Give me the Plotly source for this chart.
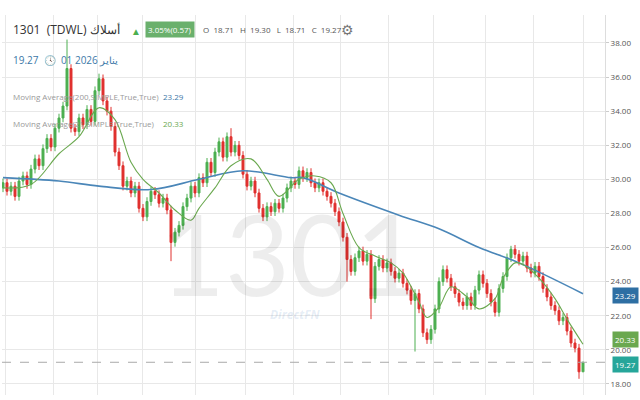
import plotly.graph_objects as go

# daily closes (one candle per session)
closes = [29.8, 29.3, 29.6, 29.0, 29.9, 30.2, 29.7, 30.6, 31.2, 30.8, 31.8, 32.4, 31.9, 33.0,
          33.6, 34.3, 36.5, 33.0, 32.8, 33.6, 33.2, 34.1, 33.4, 35.2, 35.9, 34.6, 34.0, 33.1,
          31.6, 30.8, 29.6, 29.9, 29.2, 29.6, 28.3, 27.8, 28.7, 29.3, 29.1, 28.6, 28.9, 28.2,
          26.3, 26.9, 27.3, 28.4, 28.9, 29.6, 29.2, 30.1, 29.8, 31.0, 30.4, 31.6, 32.2, 31.3,
          32.5, 31.6, 32.0, 31.4, 30.3, 29.6, 29.9, 29.2, 28.3, 27.8, 28.4, 28.1, 28.6, 28.3,
          28.9, 29.5, 29.9, 29.7, 30.5, 30.1, 30.4, 29.8, 29.5, 29.8, 29.3, 29.0, 28.6, 28.1,
          27.5, 26.6, 25.3, 24.6, 25.4, 25.8, 25.2, 25.6, 23.0, 24.9, 25.3, 24.8, 25.1, 24.6,
          24.2, 24.5, 23.9, 23.5, 22.9, 23.3, 22.4, 21.0, 20.6, 21.2, 22.4, 24.0, 24.7, 24.2,
          23.7, 23.3, 22.8, 22.6, 23.1, 22.6, 23.5, 24.4, 23.9, 23.3, 22.8, 22.2, 23.6, 24.3,
          25.4, 25.9, 25.6, 25.2, 25.5, 24.8, 24.5, 24.9, 24.3, 23.6, 23.1, 22.6, 22.3, 21.7,
          21.9, 21.1, 20.4, 20.1, 18.71, 19.27]
first_open = 29.5
wick = 0.25
# sessions with long shadows: index -> (high, low)
spikes = {16: (38.2, None), 24: (36.2, None), 42: (None, 25.2), 57: (33.0, None),
          86: (None, 24.0), 92: (None, 21.8), 103: (None, 19.9), 127: (26.1, None),
          144: (None, 18.3), 145: (19.30, 18.71)}

# moving averages (session index, value)
ma200_x = [0, 14, 24, 37, 49, 60, 72, 75, 84, 99, 109, 119, 129, 145]
ma200_y = [30.1, 29.9, 29.6, 29.4, 30.0, 30.5, 30.1, 30.1, 29.2, 27.9, 27.1, 26.0, 25.1, 23.29]
ma21_x = [0, 7, 14, 19, 24, 28, 32, 35, 39, 43, 47, 49, 53, 57, 62, 66, 69, 74, 78, 82,
          85, 89, 93, 97, 100, 104, 106, 109, 112, 116, 119, 123, 125, 128, 130, 134, 138, 141, 145]
ma21_y = [29.5, 29.7, 31.5, 32.5, 34.2, 33.5, 31.0, 30.0, 29.2, 28.2, 27.6, 28.3, 29.5, 30.8,
          31.2, 30.0, 29.0, 30.0, 30.2, 29.8, 28.0, 26.0, 25.5, 25.1, 24.5, 22.8, 21.9, 22.5,
          23.7, 23.1, 22.4, 23.0, 24.2, 25.1, 25.0, 24.2, 23.0, 21.8, 20.33]

x_grid = [0.5, 12.5, 23.5, 34.75, 48, 60.5, 72.5, 84.25, 96.25, 107.5, 120.5, 132.5, 145]
y_ticks = [18, 20, 22, 24, 26, 28, 30, 32, 34, 36, 38]

opens = [first_open] + closes[:-1]
highs, lows = [], []
for i, (o, c) in enumerate(zip(opens, closes)):
    h, l = spikes.get(i, (None, None))
    highs.append(h if h is not None else max(o, c) + wick)
    lows.append(l if l is not None else min(o, c) - wick)

fig = go.Figure()
fig.add_trace(go.Candlestick(
    x=list(range(len(closes))), open=opens, high=highs, low=lows, close=closes,
    increasing=dict(line=dict(color="#4caf50", width=1), fillcolor="#4caf50"),
    decreasing=dict(line=dict(color="#e0302e", width=1), fillcolor="#e0302e"),
    whiskerwidth=0, showlegend=False))
fig.add_trace(go.Scatter(x=ma200_x, y=ma200_y, mode="lines", line=dict(color="#4a86b8", width=1.6, shape="spline"), showlegend=False))
fig.add_trace(go.Scatter(x=ma21_x, y=ma21_y, mode="lines", line=dict(color="#6aa84f", width=1.1, shape="spline"), showlegend=False))

fig.add_hline(y=19.27, line=dict(color="#aaaaaa", width=1, dash="dash"))

font = "Open Sans"

# watermark
fig.add_annotation(x=290 / 640, y=1 - 252 / 400, xref="paper", yref="paper", text="1301", showarrow=False,
                   font=dict(size=112, color="rgba(0,0,0,0.07)", family="Lato"))
fig.add_annotation(x=295 / 640, y=1 - 325 / 400, xref="paper", yref="paper", text="<i><b>DirectFN</b></i>", showarrow=False,
                   font=dict(size=12, color="rgba(70,120,190,0.15)", family=font))

def px(xp, yp, text, size=10, color="#444", anchor="left", bg=None):
    fig.add_annotation(x=xp / 640, y=1 - yp / 400, xref="paper", yref="paper", text=text,
                       showarrow=False, xanchor=anchor, yanchor="middle",
                       font=dict(size=size, color=color, family=font), bgcolor=bg, borderpad=2)

# header
px(10, 30, "1301  (TDWL) أسلاك", size=12, color="#333")
px(128, 31, "▲", size=10, color="#4caf50")
px(145, 30, "3.05%(0.57)", size=8, color="white", bg="#6ab06c")
px(200, 30, "O  18.71   H  19.30   L  18.71   C  19.27", size=8, color="#555")
px(338, 29, "⚙", size=14, color="#777")
px(10, 60, "19.27  🕓  01 2026 يناير", size=10, color="#3c78a8")
px(10, 97, "Moving Average(200,SIMPLE,True,True)", size=8, color="#999")
px(160, 97, "23.29", size=8, color="#3c78a8")
px(10, 123, "Moving Average(21,SIMPLE,True,True)", size=8, color="#999")
px(160, 123, "20.33", size=8, color="#6aa84f")
px(612, 295, "23.29", size=8, color="white", bg="#2e6fa3")
px(612, 339, "20.33", size=8, color="white", bg="#6aa84f")
px(612, 364, "19.27", size=8, color="white", bg="#26a69a")

fig.update_layout(
    width=640, height=400, paper_bgcolor="white", plot_bgcolor="white",
    margin=dict(l=0, r=0, t=0, b=0),
    xaxis=dict(domain=[2 / 640, 605 / 640], range=[-0.25, 150.5], tickvals=x_grid, showticklabels=False,
               showgrid=True, gridcolor="#e8e8e8", zeroline=False, rangeslider=dict(visible=False)),
    yaxis=dict(domain=[5 / 400, 385 / 400], range=[17.35, 39.64], side="right", tickvals=y_ticks,
               tickformat=".2f", showgrid=True, gridcolor="#e8e8e8", zeroline=False,
               tickfont=dict(size=8, color="#555", family=font), ticks="outside", ticklen=3,
               tickcolor="#ccc", showline=True, linecolor="#ddd"),
    font=dict(family=font),
)
fig.write_html("out.html", config={"displayModeBar": False},
               post_script="document.body.style.margin='0px';")
